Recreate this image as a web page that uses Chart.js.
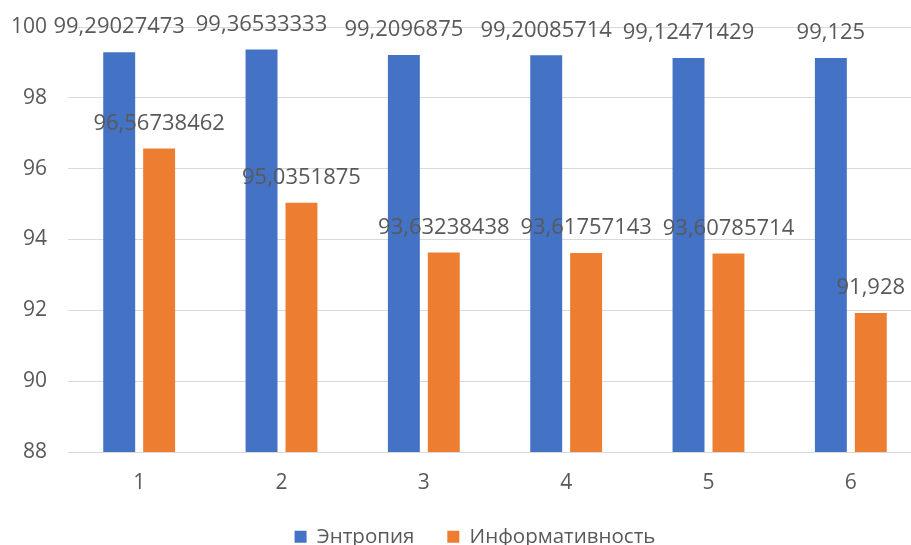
<!DOCTYPE html>
<html>
<head>
<meta charset="utf-8">
<script src="https://cdn.jsdelivr.net/npm/chart.js@4/dist/chart.umd.min.js"></script>
<style>
  html, body { margin: 0; padding: 0; background: #fff; overflow: hidden; }
  #wrap { width: 911px; height: 545px; overflow: hidden; }
</style>
</head>
<body>
<div id="wrap"><canvas id="c" width="922" height="557"></canvas></div>
<script>
// Categories and series values
const categories = ['1', '2', '3', '4', '5', '6'];
const entropyValues = [99.29027473, 99.36533333, 99.2096875, 99.20085714, 99.12471429, 99.125];
const informativenessValues = [96.56738462, 95.0351875, 93.63238438, 93.61757143, 93.60785714, 91.928];
const seriesNames = ['Энтропия', 'Информативность'];
const yTicks = [88, 90, 92, 94, 96, 98, 100];

const textColor = '#595959';
const fontFamily = '"Open Sans", "DejaVu Sans", sans-serif';

// Writes the value above every bar, using a decimal comma
const valueLabels = {
  id: 'valueLabels',
  afterDatasetsDraw(chart) {
    const ctx = chart.ctx;
    ctx.save();
    ctx.font = '22px ' + fontFamily;
    ctx.fillStyle = textColor;
    ctx.textAlign = 'center';
    ctx.textBaseline = 'middle';
    chart.data.datasets.forEach((ds, i) => {
      const meta = chart.getDatasetMeta(i);
      meta.data.forEach((bar, j) => {
        const text = String(ds.data[j]).replace('.', ',');
        ctx.fillText(text, bar.x, bar.y - 25);
      });
    });
    ctx.restore();
  }
};

// Nudges the legend a little to the right of the canvas centre
const legendShift = {
  id: 'legendShift',
  afterLayout(chart) {
    if (chart.legend) {
      chart.legend.left += 14;
      chart.legend.right += 14;
    }
  }
};

new Chart(document.getElementById('c'), {
  type: 'bar',
  data: {
    labels: categories,
    datasets: [
      { label: seriesNames[0], data: entropyValues, backgroundColor: '#4472C4',
        categoryPercentage: 0.561, barPercentage: 0.8 },
      { label: seriesNames[1], data: informativenessValues, backgroundColor: '#ED7D31',
        categoryPercentage: 0.561, barPercentage: 0.8 }
    ]
  },
  options: {
    responsive: false,
    animation: false,
    layout: { padding: { top: 27, right: 0, left: 0, bottom: 0 } },
    plugins: {
      legend: {
        position: 'bottom',
        labels: {
          color: textColor,
          font: { family: fontFamily, size: 20.5 },
          boxWidth: 12,
          boxHeight: 12,
          padding: 33
        }
      },
      tooltip: { enabled: false }
    },
    scales: {
      x: {
        grid: { display: false, drawTicks: false },
        border: { color: '#d9d9d9', width: 1 },
        ticks: { color: textColor, font: { family: fontFamily, size: 21 }, padding: 18 },
        afterFit(scale) { scale.height = 41.5; }
      },
      y: {
        min: 88,
        max: 100,
        afterBuildTicks(scale) { scale.ticks = yTicks.map(v => ({ value: v })); },
        grid: { color: '#d9d9d9', lineWidth: 1, drawTicks: false },
        border: { display: false },
        ticks: { color: textColor, font: { family: fontFamily, size: 21 }, padding: 21 },
        afterFit(scale) {
          scale.width = 68;
          scale.paddingTop = 0;
          scale.paddingBottom = 0;
        }
      }
    }
  },
  plugins: [valueLabels, legendShift]
});
</script>
</body>
</html>
